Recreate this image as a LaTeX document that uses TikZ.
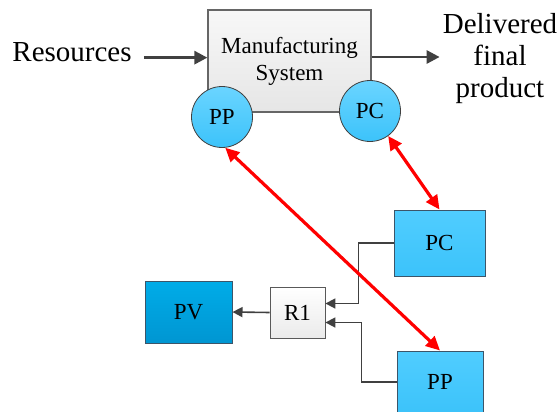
\documentclass[tikz,border=0pt]{standalone}
\usepackage{fontspec}
\setmainfont{Liberation Serif}
\usepackage{xcolor}
\usepackage{tikz}
\usetikzlibrary{arrows.meta,positioning,calc}
\definecolor{plantgray}{RGB}{242,242,242}
\definecolor{ctrlblue}{RGB}{80,205,255}
\definecolor{ctrlblueb}{RGB}{60,195,250}
\definecolor{valblue}{RGB}{0,172,232}
\definecolor{valblueb}{RGB}{0,150,210}
\definecolor{edgeblue}{RGB}{60,85,105}
\definecolor{flowgray}{RGB}{64,64,64}

\begin{document}
\begin{tikzpicture}[x=1pt, y=-1pt,
    sysbox/.style={draw=gray!80!black, line width=1.2pt, rectangle, top color=white!97!black, bottom color=plantgray!95!black, minimum width=163pt, minimum height=102pt, align=center, font=\fontsize{23}{27}\selectfont},
    ctrl/.style={draw=flowgray, line width=0.8pt, circle, top color=ctrlblue!85, bottom color=ctrlblueb, minimum size=61pt, inner sep=0pt, font=\fontsize{23}{27}\selectfont},
    block/.style={draw=edgeblue, line width=1pt, rectangle, top color=ctrlblue, bottom color=ctrlblueb, minimum height=66pt, font=\fontsize{23}{27}\selectfont},
    relay/.style={draw=gray!70!black, line width=0.8pt, rectangle, top color=white, bottom color=white!92!black, minimum width=55pt, minimum height=51pt, font=\fontsize{23}{27}\selectfont},
    bigtext/.style={inner sep=0pt, anchor=base, align=center, font=\fontsize{29}{32}\selectfont},
    flow/.style={draw=flowgray, line width=2.8pt, -{Triangle[length=13pt,width=13pt]}},
    link/.style={draw=flowgray, line width=1.6pt, -{Triangle[length=10pt,width=10pt]}},
    redlink/.style={draw=red, line width=3.2pt, {Triangle[length=14pt,width=13pt]}-{Triangle[length=14pt,width=13pt]}}
]
\useasboundingbox (0,0) rectangle (560,412);
\clip (0,0) rectangle (560,412);

% Manufacturing system
\node[sysbox] (sys) at (289.5,61) {Manufacturing\\System};
\node[ctrl] (ppc) at (222,117) {PP};
\node[ctrl] (pcc) at (370,111) {PC};

% Input and output
\node[bigtext] (res) at (72,62) {Resources};
\node[bigtext] (out) at (500,97) {Delivered\\final\\product};

% Lower blocks
\node[block, minimum width=91pt] (pcbox) at (439.5,243) {PC};
\node[block, minimum width=86pt, minimum height=62pt] (ppbox) at (440,382) {PP};
\node[relay] (r1) at (297.5,312.5) {R1};
\node[block, minimum width=87pt, minimum height=62pt, top color=valblue, bottom color=valblueb] (pv) at (188.5,312) {PV};

% Connections
\draw[flow] ([xshift=12pt,yshift=-5pt]res.east) -- ([yshift=-5pt]res.east -| sys.west);
\draw[flow] ([yshift=4pt]sys.east) -- ([xshift=-3pt,yshift=4pt]sys.east -| out.west);
\draw[link] (pcbox.west) -- ++(-35,0) |- ([yshift=9pt]r1.east);
\draw[link] (ppbox.west) -- ++(-35,0) |- ([yshift=-10pt]r1.east);
\draw[link] (r1.west) -- (pv.east);
\draw[redlink] (ppc.-84) -- (ppbox.north);
\draw[redlink] (pcc.-54) -- (pcbox.north);

\end{tikzpicture}
\end{document}
